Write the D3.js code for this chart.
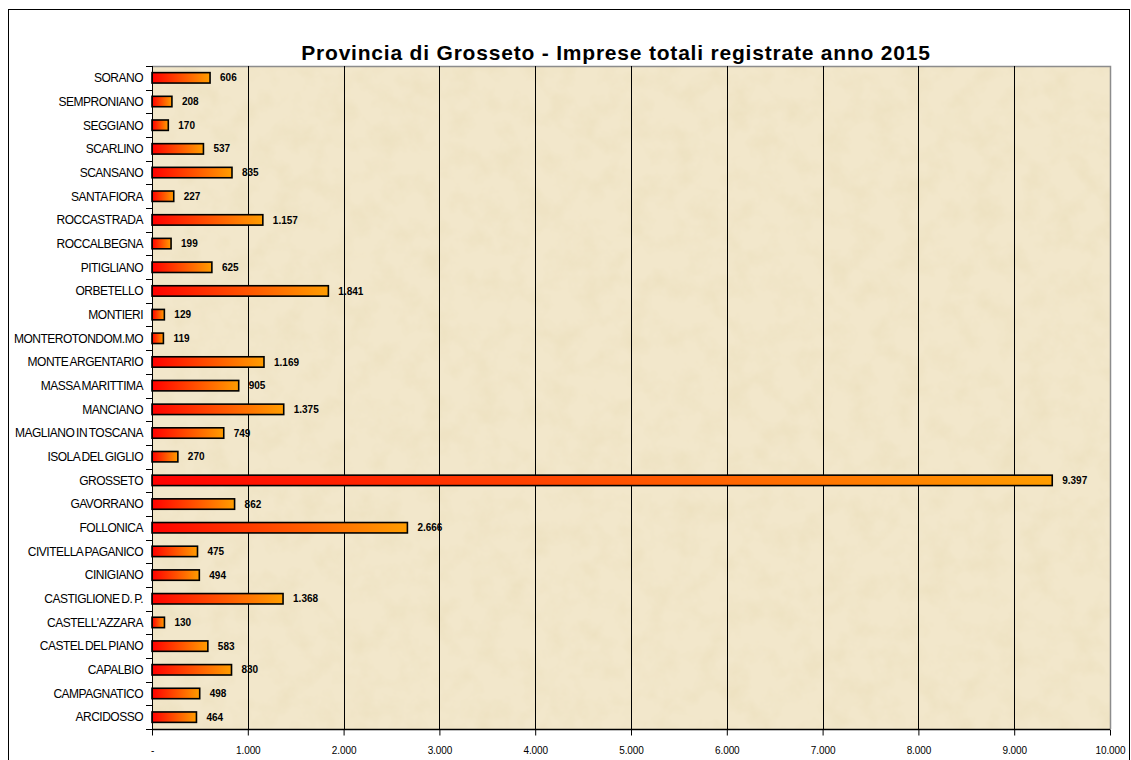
<!DOCTYPE html>
<html>
<head>
<meta charset="utf-8">
<script src="https://cdn.jsdelivr.net/npm/d3@7"></script>
<style>
  html, body { margin: 0; padding: 0; background: #fff; }
  svg { display: block; font-family: Arial, "Liberation Sans", sans-serif; }
</style>
</head>
<body>
<div id="chart"></div>
<script>
// categories from bottom (first) to top (last), as in the chart
var comuni = [
  'ARCIDOSSO', 'CAMPAGNATICO', 'CAPALBIO', 'CASTEL DEL PIANO', "CASTELL'AZZARA",
  'CASTIGLIONE D. P.', 'CINIGIANO', 'CIVITELLA PAGANICO', 'FOLLONICA', 'GAVORRANO',
  'GROSSETO', 'ISOLA DEL GIGLIO', 'MAGLIANO IN TOSCANA', 'MANCIANO', 'MASSA MARITTIMA',
  'MONTE ARGENTARIO', 'MONTEROTONDOM.MO', 'MONTIERI', 'ORBETELLO', 'PITIGLIANO',
  'ROCCALBEGNA', 'ROCCASTRADA', 'SANTA FIORA', 'SCANSANO', 'SCARLINO',
  'SEGGIANO', 'SEMPRONIANO', 'SORANO'
];
var imprese = [
  464, 498, 830, 583, 130,
  1368, 494, 475, 2666, 862,
  9397, 270, 749, 1375, 905,
  1169, 119, 129, 1841, 625,
  199, 1157, 227, 835, 537,
  170, 208, 606
];
var xTicks = [0, 1000, 2000, 3000, 4000, 5000, 6000, 7000, 8000, 9000, 10000];
var title = 'Provincia di Grosseto - Imprese totali registrate anno 2015';

;(function (window, document, undefined) {

  'use strict';

  var W = 1131, H = 760;
  var plot = { left: 152, top: 66, right: 1110, bottom: 729 };

  // 1.000 style thousands separator, '-' for zero
  var itFormat = d3.formatLocale({ decimal: ',', thousands: '.', grouping: [3], currency: ['€', ''] });
  var fmt = itFormat.format(',d');
  var tickFmt = function (d) { return d === 0 ? '-' : fmt(d); };

  var svg = d3.select('#chart').append('svg')
    .attr('width', W)
    .attr('height', H);

  var defs = svg.append('defs');

  var grad = defs.append('linearGradient')
    .attr('id', 'barGrad')
    .attr('x1', 0).attr('y1', 0).attr('x2', 1).attr('y2', 0);
  grad.append('stop').attr('offset', '0%').attr('stop-color', '#ff0000');
  grad.append('stop').attr('offset', '100%').attr('stop-color', '#ff9d00');

  // parchment texture
  var filt = defs.append('filter')
    .attr('id', 'paper')
    .attr('x', 0).attr('y', 0).attr('width', 1).attr('height', 1);
  filt.append('feTurbulence')
    .attr('type', 'fractalNoise')
    .attr('baseFrequency', '0.04')
    .attr('numOctaves', 4)
    .attr('seed', 7)
    .attr('result', 'noise');
  filt.append('feColorMatrix')
    .attr('in', 'noise')
    .attr('type', 'matrix')
    .attr('values', '0 0 0 0 0.80  0 0 0 0 0.70  0 0 0 0 0.45  0.8 0 0 0 -0.32');

  // outer frame
  svg.append('rect')
    .attr('x', 8.5).attr('y', 9.5)
    .attr('width', 1121).attr('height', 760)
    .attr('fill', '#fff')
    .attr('stroke', '#000')
    .attr('stroke-width', 1);

  var x = d3.scaleLinear()
    .domain([0, 10000])
    .range([plot.left, plot.right]);

  var y = d3.scaleBand()
    .domain(comuni.slice().reverse())
    .range([plot.top, plot.bottom])
    .paddingInner(0.56)
    .paddingOuter(0.28);

  var step = y.step();

  // plot background
  svg.append('rect')
    .attr('x', plot.left).attr('y', plot.top)
    .attr('width', plot.right - plot.left)
    .attr('height', plot.bottom - plot.top)
    .attr('fill', '#f2e7cb');
  svg.append('rect')
    .attr('x', plot.left).attr('y', plot.top)
    .attr('width', plot.right - plot.left)
    .attr('height', plot.bottom - plot.top)
    .attr('filter', 'url(#paper)');

  // plot area border (grey top / right)
  svg.append('path')
    .attr('d', 'M' + plot.left + ',' + (plot.top + 0.5) + 'H' + (plot.right + 0.5) + 'V' + plot.bottom)
    .attr('fill', 'none')
    .attr('stroke', '#8c8c8c')
    .attr('stroke-width', 1.5);

  // vertical gridlines
  svg.append('g')
    .selectAll('line')
    .data(xTicks.slice(1, -1))
    .join('line')
      .attr('x1', function (d) { return Math.round(x(d)) + 0.5; })
      .attr('x2', function (d) { return Math.round(x(d)) + 0.5; })
      .attr('y1', plot.top)
      .attr('y2', plot.bottom)
      .attr('stroke', '#000')
      .attr('stroke-width', 1);

  // bars
  svg.append('g')
    .selectAll('rect')
    .data(comuni)
    .join('rect')
      .attr('x', x(0))
      .attr('y', function (d) { return y(d); })
      .attr('width', function (d, i) { return x(imprese[i]) - x(0); })
      .attr('height', y.bandwidth())
      .attr('fill', 'url(#barGrad)')
      .attr('stroke', '#000')
      .attr('stroke-width', 1.6);

  // value labels
  svg.append('g')
    .selectAll('text')
    .data(comuni)
    .join('text')
      .attr('x', function (d, i) { return x(imprese[i]) + 10; })
      .attr('y', function (d) { return y(d) + y.bandwidth() / 2; })
      .attr('dy', '0.36em')
      .attr('font-size', 10)
      .attr('font-weight', 'bold')
      .attr('fill', '#000')
      .text(function (d, i) { return fmt(imprese[i]); });

  // left axis: ticks between categories
  var yAxis = svg.append('g');
  yAxis.append('line')
    .attr('x1', plot.left + 0.5).attr('x2', plot.left + 0.5)
    .attr('y1', plot.top).attr('y2', plot.bottom)
    .attr('stroke', '#000');
  yAxis.selectAll('line.tick')
    .data(d3.range(comuni.length + 1))
    .join('line')
      .attr('class', 'tick')
      .attr('x1', plot.left - 6).attr('x2', plot.left)
      .attr('y1', function (i) { return Math.round(plot.top + i * step) + 0.5; })
      .attr('y2', function (i) { return Math.round(plot.top + i * step) + 0.5; })
      .attr('stroke', '#000');
  yAxis.selectAll('text')
    .data(comuni)
    .join('text')
      .attr('x', plot.left - 9)
      .attr('y', function (d) { return y(d) + y.bandwidth() / 2; })
      .attr('dy', '0.36em')
      .attr('text-anchor', 'end')
      .attr('font-size', 12)
      .attr('letter-spacing', -0.5)
      .attr('word-spacing', -1)
      .attr('fill', '#000')
      .text(function (d) { return d; });

  // bottom axis
  var xAxis = svg.append('g')
    .attr('transform', 'translate(0,' + (plot.bottom + 0.5) + ')')
    .call(d3.axisBottom(x)
      .tickValues(xTicks)
      .tickSize(6)
      .tickPadding(11)
      .tickFormat(tickFmt));
  xAxis.select('.domain')
    .attr('d', 'M' + plot.left + ',0H' + plot.right)
    .attr('stroke', '#000')
    .attr('stroke-width', 1.5);
  xAxis.selectAll('.tick line').attr('stroke', '#000');
  xAxis.selectAll('.tick text')
    .attr('font-family', 'Arial, "Liberation Sans", sans-serif')
    .attr('font-size', 10)
    .attr('letter-spacing', -0.1)
    .attr('fill', '#000');

  // title
  svg.append('text')
    .attr('x', 616)
    .attr('y', 60)
    .attr('text-anchor', 'middle')
    .attr('font-size', 21)
    .attr('font-weight', 'bold')
    .attr('letter-spacing', 0.8)
    .attr('fill', '#000')
    .text(title);

})(window, document);
</script>
</body>
</html>
